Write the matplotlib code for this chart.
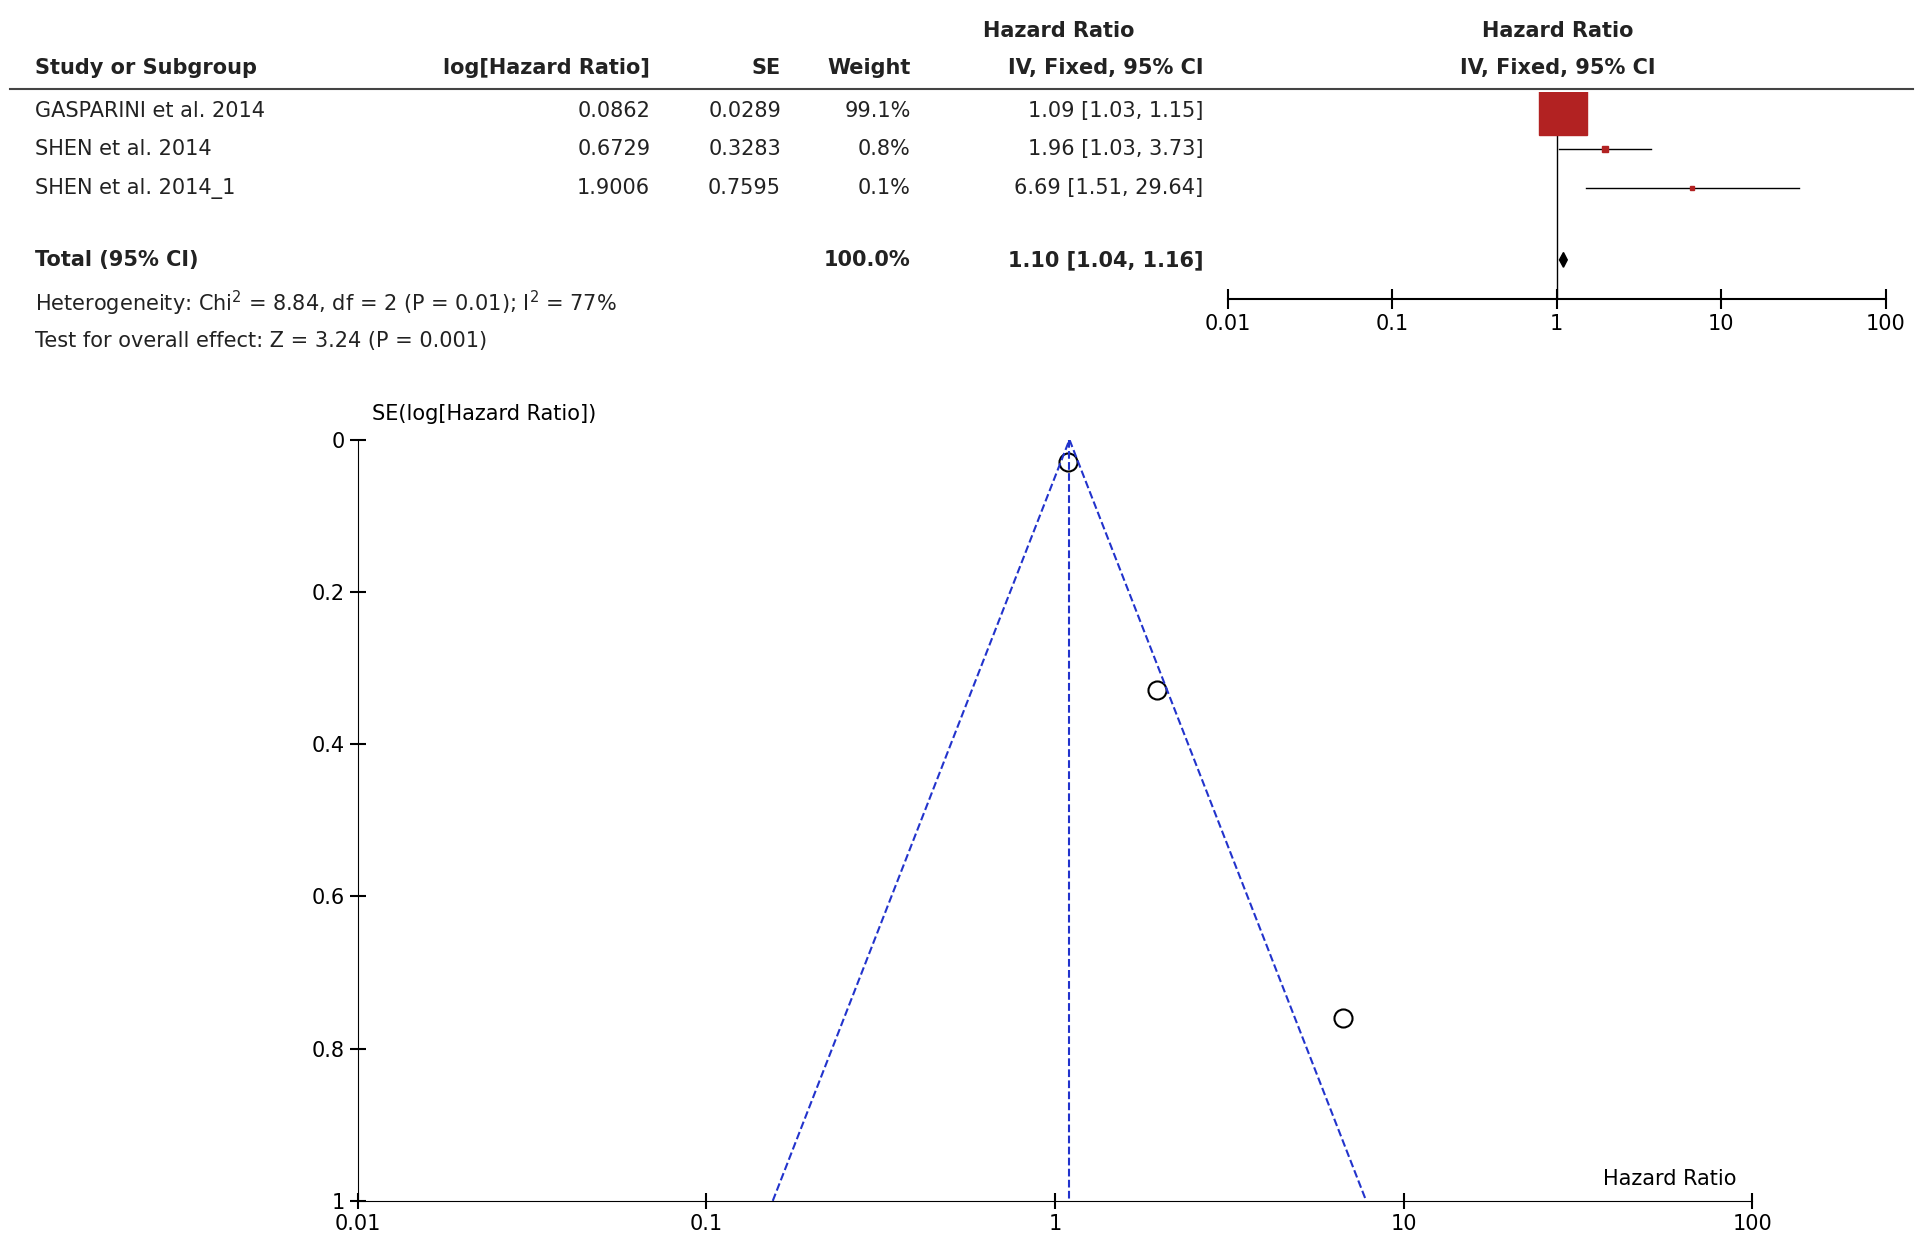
import numpy as np
import matplotlib.pyplot as plt

studies = ["GASPARINI et al. 2014", "SHEN et al. 2014", "SHEN et al. 2014_1"]
log_hr = ["0.0862", "0.6729", "1.9006"]
se = [0.0289, 0.3283, 0.7595]
weight = ["99.1%", "0.8%", "0.1%"]
hr = [1.09, 1.96, 6.69]
ci_lo = [1.03, 1.03, 1.51]
ci_hi = [1.15, 3.73, 29.64]
hr_text = ["1.09 [1.03, 1.15]", "1.96 [1.03, 3.73]", "6.69 [1.51, 29.64]"]
total_hr, total_lo, total_hi = 1.10, 1.04, 1.16

W, H = 1560.0, 1010.0
fig = plt.figure(figsize=(19.25, 12.44), dpi=100)
plt.rcParams['font.family'] = 'DejaVu Sans'


def fx(x):
    return x / W


def fy(y):
    return 1 - y / H


def txt(x, y, s, ha='left', bold=False, size=15):
    fig.text(fx(x), fy(y), s, ha=ha, va='center', fontsize=size,
             fontweight='bold' if bold else 'normal', color='#222222')


# table header
txt(28, 55, "Study or Subgroup", bold=True)
txt(527, 55, "log[Hazard Ratio]", ha='right', bold=True)
txt(633, 55, "SE", ha='right', bold=True)
txt(738, 55, "Weight", ha='right', bold=True)
txt(858, 25, "Hazard Ratio", ha='center', bold=True)
txt(975, 55, "IV, Fixed, 95% CI", ha='right', bold=True)
txt(1262, 25, "Hazard Ratio", ha='center', bold=True)
txt(1262, 55, "IV, Fixed, 95% CI", ha='center', bold=True)
fig.add_artist(plt.Line2D([fx(8), fx(1550)], [fy(72), fy(72)], color='#444444', lw=1.5))

rows_y = [90, 121, 153]
for i, y in enumerate(rows_y):
    txt(28, y, studies[i])
    txt(527, y, log_hr[i], ha='right')
    txt(633, y, f"{se[i]:.4f}", ha='right')
    txt(738, y, weight[i], ha='right')
    txt(975, y, hr_text[i], ha='right')
txt(28, 211, "Total (95% CI)", bold=True)
txt(738, 211, "100.0%", ha='right', bold=True)
txt(975, 211, f"{total_hr:.2f} [{total_lo:.2f}, {total_hi:.2f}]", ha='right', bold=True)
txt(28, 246, "Heterogeneity: Chi$^2$ = 8.84, df = 2 (P = 0.01); I$^2$ = 77%")
txt(28, 277, "Test for overall effect: Z = 3.24 (P = 0.001)")

# forest axis
axf = fig.add_axes([fx(995), fy(243), fx(1528) - fx(995), fy(75) - fy(243)])
axf.set_xscale('log')
axf.set_xlim(0.01, 100)
axf.set_ylim(243, 75)
for s in ['top', 'right', 'left']:
    axf.spines[s].set_visible(False)
axf.set_yticks([])
axf.set_xticks([0.01, 0.1, 1, 10, 100])
axf.set_xticklabels(["0.01", "0.1", "1", "10", "100"], fontsize=15)
axf.xaxis.set_minor_locator(plt.NullLocator())
axf.tick_params(axis='x', direction='inout', length=14, width=1.5)
axf.spines['bottom'].set_linewidth(1.5)
axf.axvline(1, color='black', lw=1)
sizes = [34, 4, 3]
for i, y in enumerate(rows_y):
    axf.plot([ci_lo[i], ci_hi[i]], [y, y], color='black', lw=1)
    axf.plot(hr[i], y, marker='s', ms=sizes[i], color='#b22222', mec='#b22222')
axf.fill([total_lo, total_hr, total_hi, total_hr], [211, 205, 211, 217], color='black')

# funnel plot
axp = fig.add_axes([fx(290), fy(975), fx(1420) - fx(290), fy(357) - fy(975)])
axp.set_xscale('log')
axp.set_xlim(0.01, 100)
axp.set_ylim(1, 0)
axp.spines['top'].set_visible(False)
axp.spines['right'].set_visible(False)
axp.plot(hr, se, 'o', mfc='none', mec='black', ms=13, mew=1.5)
lo_end = total_hr * np.exp(-1.96)
hi_end = total_hr * np.exp(1.96)
axp.plot([lo_end, total_hr, hi_end], [1, 0, 1], '--', color='#2233cc', lw=1.5)
axp.plot([total_hr, total_hr], [0, 1], '--', color='#2233cc', lw=1.5)
axp.set_xticks([0.01, 0.1, 1, 10, 100])
axp.set_xticklabels(["0.01", "0.1", "1", "10", "100"], fontsize=15)
axp.xaxis.set_minor_locator(plt.NullLocator())
axp.set_yticks([0, 0.2, 0.4, 0.6, 0.8, 1])
axp.set_yticklabels(["0", "0.2", "0.4", "0.6", "0.8", "1"], fontsize=15)
axp.tick_params(direction='inout', length=12, width=1.5)
axp.text(0.011, 0.0 - 0.02, "SE(log[Hazard Ratio])", fontsize=15, va='bottom', ha='left')
axp.text(90, 0.985, "Hazard Ratio", fontsize=15, va='bottom', ha='right')

fig.savefig("out.png", dpi=100)
